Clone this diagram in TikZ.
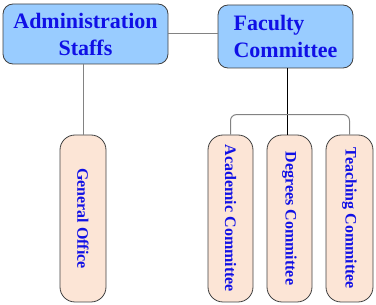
\documentclass[tikz,border=0pt]{standalone}
\usepackage{fontspec}
\setmainfont{Liberation Serif}
\usetikzlibrary{positioning,calc}
\definecolor{orgBlue}{RGB}{153,204,255}
\definecolor{orgPeach}{RGB}{252,229,214}
\definecolor{orgText}{RGB}{16,16,230}
\definecolor{orgLine}{RGB}{130,130,130}
\tikzset{
  headbox/.style={rounded corners=10pt, draw=black!75, fill=orgBlue, line width=0.8pt, align=left,
                  inner sep=2pt, text=orgText, font=\fontsize{22}{27}\selectfont\bfseries},
  unitbox/.style={rounded corners=15pt, draw=black!75, fill=orgPeach, line width=0.8pt,
                  minimum height=167pt, inner sep=0pt, text=orgText,
                  font=\fontsize{16}{19}\selectfont\bfseries},
  link/.style={line width=1pt, draw=orgLine},
  mainlink/.style={line width=0.8pt, draw=black}
}

\begin{document}
\begin{tikzpicture}[x=1pt, y=-1pt]
\useasboundingbox (0,0) rectangle (376,305);
\node[headbox, minimum width=165pt, minimum height=60pt, align=center] (admin) at (85.5,34) {Administration\\Staffs};
\node[headbox, minimum width=135pt, minimum height=63pt] (faculty) at (285.5,36.5) {Faculty\\Committee};
\node[unitbox, minimum width=46pt] (office) at (83,218.5) {\rotatebox{-90}{General Office}};
\node[unitbox, minimum width=45pt] (acad) at (230.5,218.5) {\rotatebox{-90}{Academic Committee}};
\node[unitbox, minimum width=45pt] (degrees) at (289.5,218.5) {\rotatebox{-90}{Degrees Committee}};
\node[unitbox, minimum width=47pt] (teaching) at (349.5,218.5) {\rotatebox{-90}{Teaching Committee}};
\draw[link] (admin.east) -- (admin.east -| faculty.west);
\draw[link] (office.north) -- (office.north |- admin.south);
\draw[mainlink] (faculty.south -| degrees.north) ++(-2,0) -- ($(degrees.north)+(-2,0)$);
\draw[link, rounded corners=6pt] (acad.north) -- ++(0,-20) -| (teaching.north);
\end{tikzpicture}
\end{document}
